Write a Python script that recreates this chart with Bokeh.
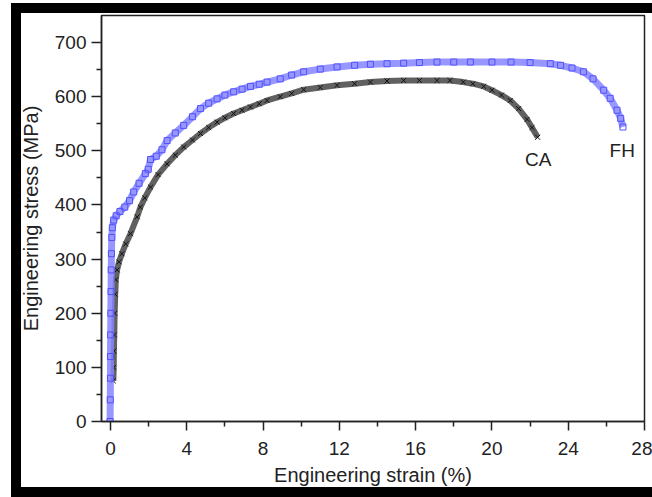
from bokeh.plotting import figure
from bokeh.models import Range1d, FixedTicker, Label
from bokeh.embed import file_html
from bokeh.resources import INLINE

# FH series (engineering strain %, engineering stress MPa)
fh_strain = [-0.02, -0.01, 0.0, 0.0, 0.01, 0.02, 0.03, 0.04, 0.05, 0.07, 0.1, 0.17, 0.3, 0.5,
             0.75, 1.0, 1.22, 1.5, 1.83, 1.98, 2.1, 2.4, 2.7, 2.97, 3.4, 3.84, 4.3, 4.72, 5.15,
             5.59, 6.0, 6.46, 6.9, 7.34, 7.8, 8.21, 8.9, 9.5, 10.13, 11.0, 11.88, 12.8, 13.63,
             14.5, 15.37, 16.2, 17.12, 18.0, 18.87, 20.0, 21.0, 22.0, 23.06, 23.6, 24.2, 24.8,
             25.3, 25.86, 26.2, 26.56, 26.75, 26.87]
fh_stress = [0, 40, 80, 120, 160, 200, 240, 280, 310, 340, 358, 372, 380, 388,
             396, 408, 424, 440, 458, 466, 484, 490, 502, 519, 533, 547, 563, 578, 588,
             596, 603, 609, 614, 619, 623, 627, 633, 640, 646, 651, 655, 658, 660,
             661, 662, 663, 664, 664, 664, 664, 664, 663, 661, 658, 653, 646,
             633, 612, 597, 575, 560, 544]

# CA series
ca_strain = [0.15, 0.17, 0.18, 0.2, 0.22, 0.25, 0.28, 0.35, 0.45, 0.6, 0.8, 1.05, 1.4, 1.57,
             1.8, 2.1, 2.5, 2.97, 3.4, 3.84, 4.3, 4.72, 5.15, 5.59, 6.0, 6.46, 6.9, 7.34, 7.8,
             8.21, 8.9, 9.5, 10.13, 11.0, 11.88, 12.8, 13.63, 14.5, 15.37, 16.2, 17.12, 17.8,
             18.5, 19.0, 19.57, 20.0, 20.5, 20.96, 21.4, 21.84, 22.1, 22.4]
ca_stress = [75, 100, 130, 160, 200, 235, 262, 280, 295, 310, 328, 347, 378, 396,
             413, 433, 456, 476, 492, 507, 520, 532, 543, 553, 561, 569, 575, 581, 587,
             593, 600, 606, 613, 617, 621, 624, 627, 629, 630, 630, 630, 630,
             627, 624, 619, 612, 603, 593, 578, 558, 543, 525]

x_ticks = [0, 4, 8, 12, 16, 20, 24, 28]
x_minor = [2, 6, 10, 14, 18, 22, 26]
y_ticks = [0, 100, 200, 300, 400, 500, 600, 700]
y_minor = [50, 150, 250, 350, 450, 550, 650]

series_labels = ["CA", "FH"]
label_x = [22.43, 26.83]
label_y = [484, 501]

FONT = "Liberation Sans"

p = figure(width=652, height=497, output_backend="svg", toolbar_location=None,
           x_range=Range1d(-0.47, 28), y_range=Range1d(0, 750),
           min_border_left=101, min_border_right=8, min_border_top=15, min_border_bottom=76)
p.background_fill_color = "white"
p.border_fill_alpha = 0
p.outline_line_color = "#222222"
p.outline_line_width = 1.5
p.grid.visible = False

for ax in (p.xaxis[0], p.yaxis[0]):
    ax.axis_line_width = 1.5
    ax.axis_line_color = "#222222"
    ax.major_tick_line_color = "#222222"
    ax.minor_tick_line_color = "#222222"
    ax.major_tick_line_width = 1.5
    ax.minor_tick_line_width = 1.5
    ax.major_tick_in = 0
    ax.minor_tick_in = 0
    ax.minor_tick_out = 5
    ax.major_label_text_font = FONT
    ax.major_label_text_font_size = "19px"
    ax.major_label_text_color = "#222222"
    ax.axis_label_text_font = FONT
    ax.axis_label_text_font_size = "20px"
    ax.axis_label_text_font_style = "normal"
    ax.axis_label_text_color = "#222222"

p.xaxis.ticker = FixedTicker(ticks=x_ticks, minor_ticks=x_minor)
p.yaxis.ticker = FixedTicker(ticks=y_ticks, minor_ticks=y_minor)
p.xaxis.axis_label = "Engineering strain (%)"
p.yaxis.axis_label = "Engineering stress (MPa)"
p.xaxis.major_tick_out = 9
p.yaxis.major_tick_out = 10
p.xaxis.major_label_standoff = 11
p.yaxis.major_label_standoff = 5
p.xaxis.axis_label_standoff = 6
p.yaxis.axis_label_standoff = 10

# CA: black crosses
p.line(ca_strain, ca_stress, line_color="#3a3a3a", line_width=6, line_alpha=0.8)
p.scatter(ca_strain, ca_stress, marker="x", size=7, line_color="#111111", line_width=1)

# FH: blue open squares
p.line(fh_strain, fh_stress, line_color="#8585ff", line_width=7, line_alpha=0.85)
p.scatter(fh_strain, fh_stress, marker="square", size=6, fill_alpha=0,
          line_color="#5050ff", line_width=1)

for t, xx, yy in zip(series_labels, label_x, label_y):
    p.add_layout(Label(x=xx, y=yy, text=t, text_align="center", text_baseline="middle",
                       text_font=FONT, text_font_size="19px", text_color="#222222"))

# black picture frame painted behind the (transparent) figure border area
p.styles = {
    "background-color": "white",
    "background-image": ("linear-gradient(#000,#000), linear-gradient(#000,#000), "
                         "linear-gradient(#000,#000)"),
    "background-position": "11px 3px, 11px 3px, 11px 487px",
    "background-size": "10px 494px, 641px 10px, 641px 10px",
    "background-repeat": "no-repeat",
}

open("out.html", "w").write(file_html(p, INLINE))
